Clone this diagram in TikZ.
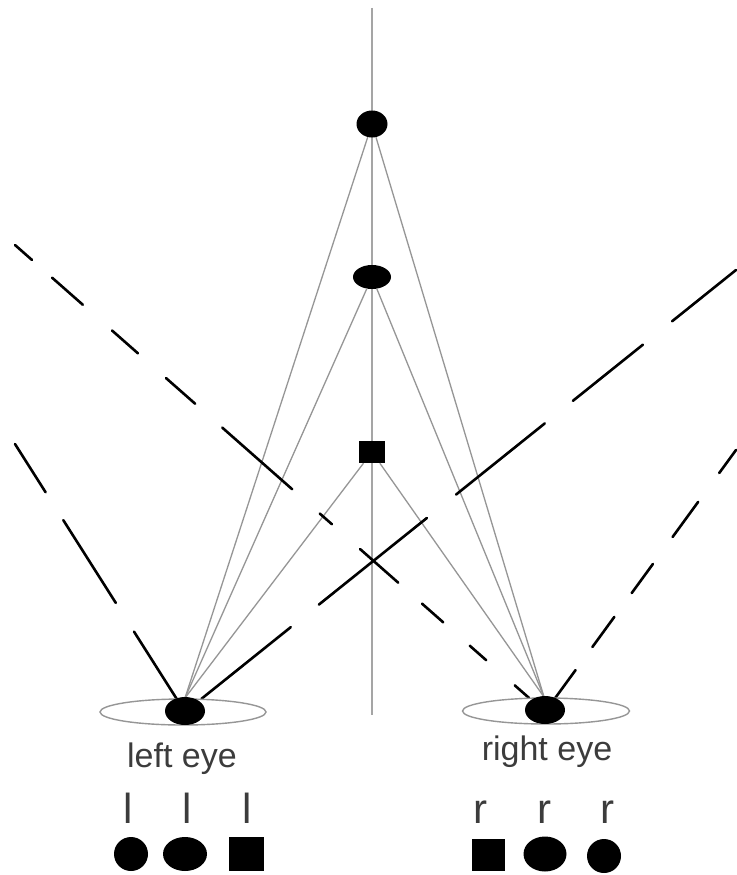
\documentclass[tikz,border=0pt]{standalone}
\usepackage{fontspec}
\setmainfont{Liberation Sans}
\usetikzlibrary{shapes.geometric,calc}
\definecolor{lgray}{RGB}{150,150,150}
\definecolor{vgray}{RGB}{165,165,165}
\definecolor{txt}{RGB}{60,60,60}
\tikzset{
  blob/.style={fill=black,draw=none,inner sep=0pt},
  ellblob/.style={blob,ellipse},
  sqblob/.style={blob,rectangle},
  grayline/.style={draw=lgray,line width=1.3pt},
  dashl/.style={draw=black,line width=2.6pt,line cap=round},
  eyering/.style={draw=lgray,line width=1.4pt,ellipse,inner sep=0pt,minimum width=166pt,minimum height=26pt},
  lbl/.style={text=txt,inner sep=0pt,anchor=base,font=\fontsize{34}{40}\selectfont},
  letterlbl/.style={text=txt,inner sep=0pt,anchor=base,font=\fontsize{42}{46}\selectfont}
}
\newcommand\dseg[4]{\draw[dashl] ($(#1)!#3!(#2)$) -- ($(#1)!#4!(#2)$);}
\begin{document}
\begin{tikzpicture}[x=1pt,y=-1pt]
\useasboundingbox[fill=white] (0,0) rectangle (736,875);
% vertical line
\coordinate (vt) at (372,8);
\coordinate (vb) at (372,715);
\draw[draw=vgray,line width=2pt] (vt) -- (vb);
% eyes centres and tops
\coordinate (eL) at (185,712);
\coordinate (eR) at (545,712);
\coordinate (eLt) at (185,698);
\coordinate (eRt) at (544,697);
% far ends of dashed lines
\coordinate (fA) at (15,444);
\coordinate (fB) at (736,270);
\coordinate (fC) at (15,245);
\coordinate (fD) at (736,450);
% objects
\node[ellblob,minimum width=31pt,minimum height=27pt] (c1) at (372,124) {};
\node[ellblob,minimum width=38pt,minimum height=24pt] (e1) at (372,277) {};
\node[sqblob,minimum width=26pt,minimum height=22pt] (s1) at (372,452) {};
% gray sight lines
\draw[grayline] (c1) -- (eLt);
\draw[grayline] (e1) -- (eLt);
\draw[grayline] (s1) -- (eLt);
\draw[grayline] (c1) -- (eRt);
\draw[grayline] (e1) -- (eRt);
\draw[grayline] (s1) -- (eRt);
% dashed line A (left eye, up-left)
\dseg{eL}{fA}{0.05}{0.30}
\dseg{eL}{fA}{0.407}{0.716}
\dseg{eL}{fA}{0.82}{1}
% dashed line B (left eye, up-right)
\dseg{eL}{fB}{0.03}{0.192}
\dseg{eL}{fB}{0.243}{0.439}
\dseg{eL}{fB}{0.492}{0.653}
\dseg{eL}{fB}{0.704}{0.831}
\dseg{eL}{fB}{0.884}{1}
% dashed line C (right eye, up-left)
\dseg{eR}{fC}{0.03}{0.057}
\dseg{eR}{fC}{0.111}{0.142}
\dseg{eR}{fC}{0.192}{0.232}
\dseg{eR}{fC}{0.277}{0.349}
\dseg{eR}{fC}{0.402}{0.425}
\dseg{eR}{fC}{0.477}{0.609}
\dseg{eR}{fC}{0.660}{0.715}
\dseg{eR}{fC}{0.768}{0.817}
\dseg{eR}{fC}{0.872}{0.930}
\dseg{eR}{fC}{0.968}{1}
% dashed line D (right eye, up-right)
\dseg{eR}{fD}{0.03}{0.160}
\dseg{eR}{fD}{0.248}{0.363}
\dseg{eR}{fD}{0.454}{0.565}
\dseg{eR}{fD}{0.668}{0.802}
\dseg{eR}{fD}{0.912}{1}
% eyes
\node[eyering] (oL) at (183,712) {};
\node[eyering,minimum width=167pt] (oR) at (546,711) {};
\node[ellblob,minimum width=40pt,minimum height=28pt] (pL) at (185,711) {};
\node[ellblob,minimum width=40pt,minimum height=28pt] (pR) at (545,710) {};
% labels
\node[lbl] (tL) at (182,767) {left eye};
\node[lbl] (tR) at (547,760) {right eye};
% bottom letters
\node[letterlbl] (l1) at (128,823) {l};
\node[letterlbl] (l2) at (187,823) {l};
\node[letterlbl] (l3) at (247,823) {l};
\node[letterlbl] (r1) at (480,823) {r};
\node[letterlbl] (r2) at (544,823) {r};
\node[letterlbl] (r3) at (607,823) {r};
% bottom shapes
\node[ellblob,minimum width=34pt,minimum height=34pt] (bc1) at (131,854) {};
\node[ellblob,minimum width=44pt,minimum height=34pt] (be1) at (185,854) {};
\node[sqblob,minimum width=35pt,minimum height=34pt] (bs1) at (246,854) {};
\node[sqblob,minimum width=33pt,minimum height=32pt] (bs2) at (488,855) {};
\node[ellblob,minimum width=43pt,minimum height=35pt] (be2) at (545,854) {};
\node[ellblob,minimum width=34pt,minimum height=34pt] (bc2) at (604,856) {};
\end{tikzpicture}
\end{document}
